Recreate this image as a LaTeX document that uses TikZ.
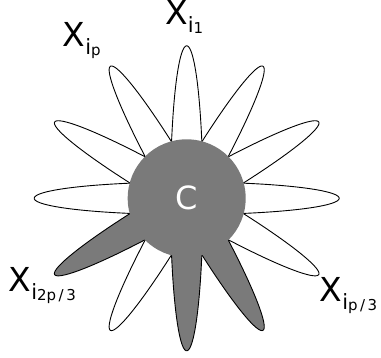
\documentclass[tikz,border=0pt]{standalone}
\usepackage{fontspec}
\setmainfont{DejaVu Sans}
\definecolor{petalgray}{RGB}{122,122,122}
\newcommand{\flab}[1]{X\raisebox{-8pt}{\fontsize{21}{21}\selectfont i\raisebox{-1pt}{\fontsize{15}{15}\selectfont #1}}}
% outer half of an ellipse centred on the flower centre, pointing at angle #1
\newcommand{\petalpath}[1]{plot[domain=-90:90, samples=61, variable=\t]
  ({186.7+152.5*cos(\t)*cos(#1)-16.3*sin(\t)*sin(#1)},
   {159.7+152.5*cos(\t)*sin(#1)+16.3*sin(\t)*cos(#1)}) -- cycle}
\tikzset{
  petal/.style={draw=black, line width=0.9pt, line join=round},
  whitepetal/.style={petal, fill=white},
  graypetal/.style={petal, fill=petalgray},
  lab/.style={anchor=base west, inner sep=0pt, font=\fontsize{33}{40}\selectfont},
}
\begin{document}
\begin{tikzpicture}[x=1pt,y=1pt]
\useasboundingbox (0,0) rectangle (381,358);
\coordinate (ctr) at (186.7,159.7);
% white petals
\foreach \a in {90,60,30,0,330,240,180,150,120}{
  \draw[whitepetal] \petalpath{\a};
}
% gray petals
\foreach \a in {210,270,300}{
  \draw[graypetal] \petalpath{\a};
}
% centre
\fill[petalgray] (ctr) circle (59);
\node[text=white, font=\fontsize{32}{38}\selectfont, inner sep=0pt] (C) at (ctr) {C};
% labels
\node[lab] (x1) at (165,333) {\flab{1}};
\node[lab] (xp) at (62.5,311.3) {\flab{p}};
\node[lab] (x2p3) at (8.5,66.5) {\flab{2p\kern2.5pt/\kern2.5pt3}};
\node[lab] (xp3) at (319.5,56) {\flab{p\kern2.5pt/\kern2.5pt3}};
\end{tikzpicture}
\end{document}
